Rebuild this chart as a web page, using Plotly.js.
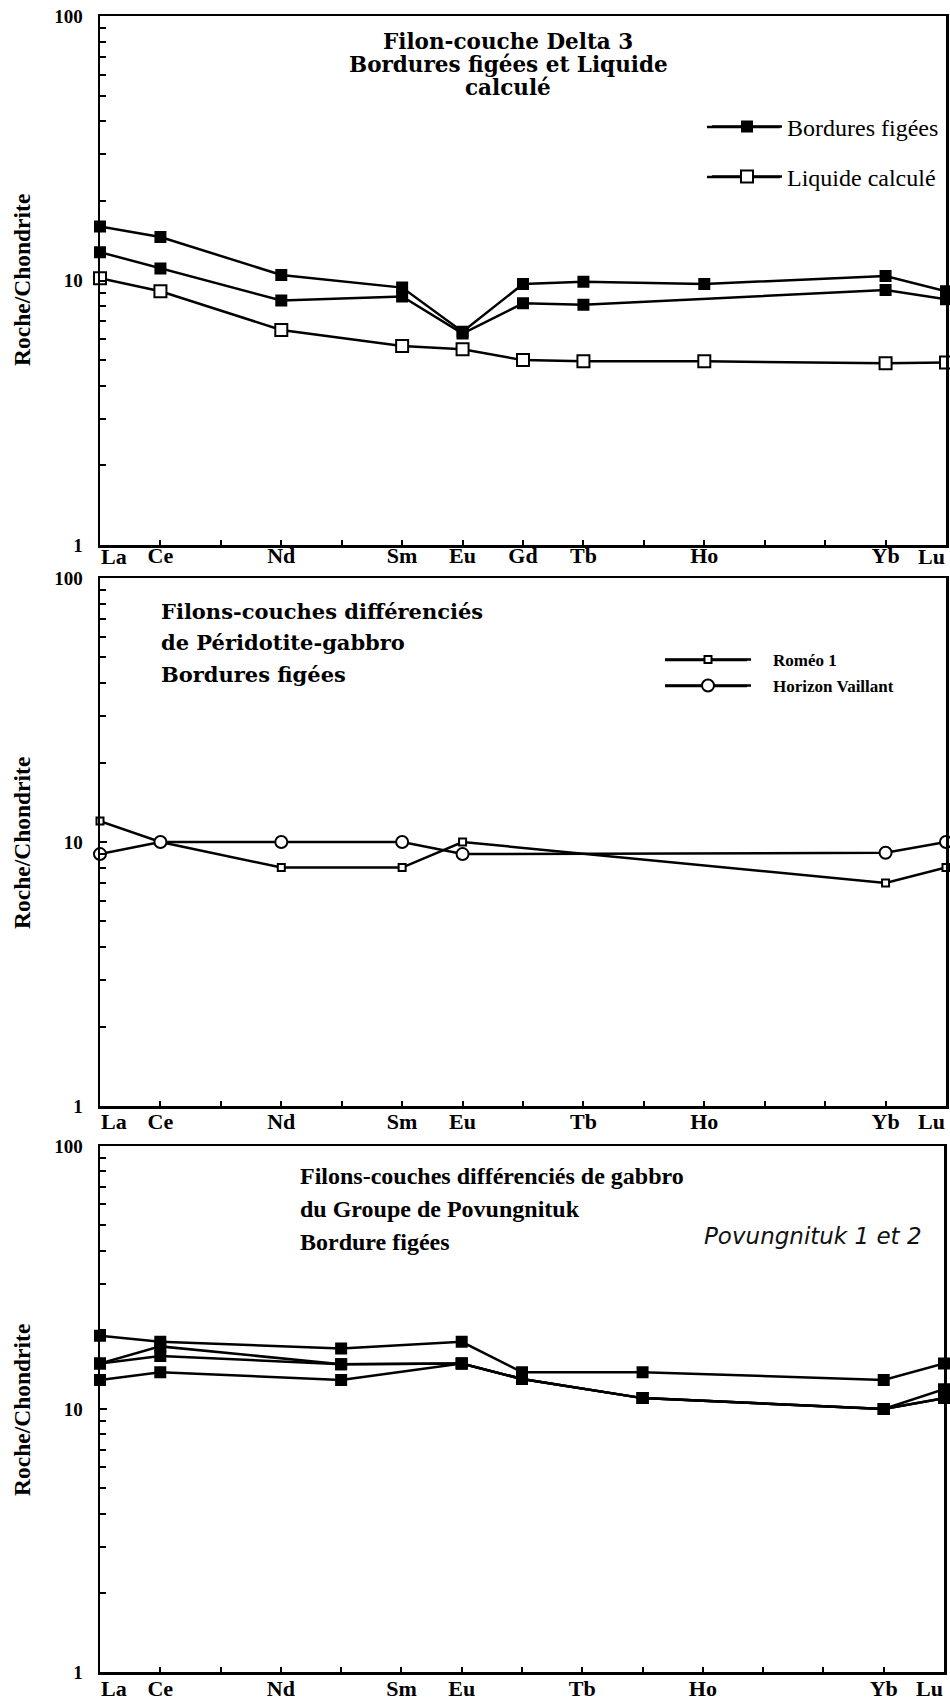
<!DOCTYPE html>
<html>
<head>
<meta charset="utf-8">
<script src="https://cdn.plot.ly/plotly-3.0.1.min.js"></script>
<style>html,body{margin:0;padding:0;background:#fff;}#chart{width:950px;height:1700px;}</style>
</head>
<body>
<div id="chart"></div>
<script>
// ---------- DATA ----------
// x positions are atomic-number positions of the REE (La=57 ... Lu=71)
const elemPos = [57,58,59,60,61,62,63,64,65,66,67,68,69,70,71];
const labelsP1 = ['La','Ce','','Nd','','Sm','Eu','Gd','Tb','','Ho','','','Yb','Lu'];
const labelsP2 = ['La','Ce','','Nd','','Sm','Eu','','Tb','','Ho','','','Yb','Lu'];
const labelsP3 = ['La','Ce','','Nd','','Sm','Eu','','Tb','','Ho','','','Yb','Lu'];

// Panel 1 : Filon-couche Delta 3  (La Ce Nd Sm Eu Gd Tb Ho Yb Lu)
const xP1 = [57,58,60,62,63,64,65,67,70,71];
const p1Bordures1 = [16.0,14.6,10.5,9.4,6.4,9.7,9.9,9.7,10.4,9.1];
const p1Bordures2 = [12.8,11.1,8.4,8.7,6.3,8.2,8.1,null,9.2,8.5];
const p1Liquide   = [10.2,9.1,6.5,5.65,5.5,5.0,4.95,4.95,4.87,4.9];

// Panel 2 : Péridotite-gabbro (La Ce Nd Sm Eu Yb Lu)
const xP2 = [57,58,60,62,63,70,71];
const romeo1          = [12.0,10.0,8.0,8.0,10.0,7.0,8.0];
const horizonVaillant = [9.0,10.0,10.0,10.0,9.0,9.1,10.0];

// Panel 3 : Groupe de Povungnituk
const xP3 = [57,58,61,63,64,66,70,71];
const pov1 = [19.0,18.0,17.0,18.0,13.8,13.8,12.9,14.9];
const pov2 = [14.9,17.3,14.8,14.9,13.0,11.0,10.0,11.9];
const pov3 = [14.9,15.9,14.8,14.9,13.0,11.0,10.0,11.0];
const pov4 = [12.9,13.8,12.9,14.9,13.0,11.0,10.0,11.0];

const yTickVals = [1,10,100];
const yTickText = ['1','10','100'];
const yMinor = [2,3,4,5,6,7,8,9,20,30,40,50,60,70,80,90];

// ---------- STYLE ----------
const W = 950, H = 1700;
const px = v => v / W;
const py = v => 1 - v / H;
const BLK = '#000';
const NB = '\u00A0';
const serifB = {family:'Liberation Serif, Times New Roman, serif', weight:'bold', color:BLK};

function line(x, y, xa, ya, sym, size, fill, opts) {
  return Object.assign({
    type:'scatter', mode:'lines+markers', x:x, y:y, xaxis:xa, yaxis:ya,
    connectgaps:true, cliponaxis:false,
    line:{color:BLK, width:2.5},
    marker:{symbol:sym, size:size, color:fill, line:{color:BLK, width:2}},
    showlegend:false, hoverinfo:'skip'
  }, opts || {});
}

const traces = [
  line(xP1, p1Bordures1, 'x', 'y', 'square', 10, BLK, {name:'Bordures figées', showlegend:true, legend:'legend'}),
  line(xP1, p1Bordures2, 'x', 'y', 'square', 10, BLK),
  line(xP1, p1Liquide, 'x', 'y', 'square', 12, '#fff', {name:'Liquide calculé', showlegend:true, legend:'legend2'}),
  line(xP2, romeo1, 'x2', 'y2', 'square', 7, '#fff', {name:NB.repeat(4)+'Roméo 1', showlegend:true, legend:'legend3'}),
  line(xP2, horizonVaillant, 'x2', 'y2', 'circle', 12, '#fff', {name:NB.repeat(4)+'Horizon Vaillant', showlegend:true, legend:'legend4'}),
  line(xP3, pov1, 'x3', 'y3', 'square', 10, BLK),
  line(xP3, pov2, 'x3', 'y3', 'square', 10, BLK),
  line(xP3, pov3, 'x3', 'y3', 'square', 10, BLK),
  line(xP3, pov4, 'x3', 'y3', 'square', 10, BLK)
];

const tickFont = Object.assign({size:22}, serifB);
// end labels (La, Lu) are drawn as annotations aligned to the axis ends
function midLabels(labels) { return labels.map((t, i) => (i === 0 || i === labels.length - 1) ? '' : t); }

function xAxis(domainR, labels, anchor, standoff) {
  return {
    domain:[px(100), px(domainR)], anchor:anchor, range:[57,71], type:'linear',
    tickmode:'array', tickvals:elemPos, ticktext:midLabels(labels),
    ticks:'inside', ticklen:5, tickwidth:2, tickcolor:BLK,
    ticklabelstandoff:standoff,
    showline:true, linecolor:BLK, linewidth:2.5, mirror:true,
    showgrid:false, zeroline:false, fixedrange:true,
    tickfont:tickFont
  };
}
function yAxis(top, bottom, anchor) {
  return {
    domain:[py(bottom), py(top)], anchor:anchor, type:'log', range:[0,2],
    tickmode:'array', tickvals:yTickVals, ticktext:yTickText,
    ticks:'inside', ticklen:7, tickwidth:2, tickcolor:BLK,
    ticklabelstandoff:11,
    minor:{tickmode:'array', tickvals:yMinor, ticks:'inside', ticklen:6, tickwidth:2, tickcolor:BLK, showgrid:false},
    showline:true, linecolor:BLK, linewidth:2.5, mirror:true,
    showgrid:false, zeroline:false, fixedrange:true,
    tickfont:Object.assign({size:19}, serifB)
  };
}

function ann(text, x, y, font, extra) {
  return Object.assign({text:text, xref:'paper', yref:'paper', x:px(x), y:py(y),
    showarrow:false, font:font, xanchor:'left', yanchor:'middle'}, extra || {});
}
function endLabels(labels, xref, yPix) {
  return [
    {text:labels[0], xref:xref, yref:'paper', x:elemPos[0], y:py(yPix), xanchor:'left', yanchor:'middle', showarrow:false, font:tickFont, borderpad:0},
    {text:labels[labels.length-1], xref:xref, yref:'paper', x:elemPos[elemPos.length-1], y:py(yPix), xanchor:'right', yanchor:'middle', showarrow:false, font:tickFont, borderpad:0}
  ];
}
const t1Font = {family:'DejaVu Serif, serif', weight:'bold', size:21.5, color:BLK};
const t2Font = {family:'DejaVu Serif, serif', weight:'bold', size:21, color:BLK};
const t3Font = Object.assign({size:24}, serifB);
const yTitleFont = Object.assign({size:23.5}, serifB);
const handFont = {family:'DejaVu Sans, sans-serif', style:'italic', size:23, color:'#111'};

const annotations = [
  ann('Filon-couche Delta 3', 508, 42, t1Font, {xanchor:'center'}),
  ann('Bordures figées et Liquide', 508, 65, t1Font, {xanchor:'center'}),
  ann('calculé', 508, 88, t1Font, {xanchor:'center'}),
  ann('Filons-couches différenciés', 159, 611, t2Font),
  ann('de Péridotite-gabbro', 159, 643, t2Font),
  ann('Bordures figées', 159, 675, t2Font),
  ann('Filons-couches différenciés de gabbro', 298, 1176, t3Font),
  ann('du Groupe de Povungnituk', 298, 1209, t3Font),
  ann('Bordure figées', 298, 1242, t3Font),
  ann('Povungnituk 1 et 2', 702, 1236, handFont),
  ann('Roche/Chondrite', 22, 280, yTitleFont, {xanchor:'center', textangle:-90}),
  ann('Roche/Chondrite', 22, 843, yTitleFont, {xanchor:'center', textangle:-90}),
  ann('Roche/Chondrite', 22, 1410, yTitleFont, {xanchor:'center', textangle:-90})
].concat(endLabels(labelsP1, 'x', 556), endLabels(labelsP2, 'x2', 1121), endLabels(labelsP3, 'x3', 1688));

// legend symbol line extensions
function legLine(x0, x1, y) {
  return {type:'line', xref:'paper', yref:'paper', x0:px(x0), x1:px(x1), y0:py(y), y1:py(y),
    line:{color:BLK, width:2.5}, layer:'above'};
}
const shapes = [
  legLine(707, 780, 127), legLine(707, 780, 177),
  legLine(665, 747, 660), legLine(665, 747, 686)
];

function leg(x, y, font, iw) {
  return {x:px(x), y:py(y), xanchor:'left', yanchor:'middle', bgcolor:'rgba(0,0,0,0)',
    borderwidth:0, font:font, itemwidth:iw, tracegroupgap:0};
}
const legFont1 = {family:'Liberation Serif, Times New Roman, serif', size:24, color:BLK};
const legFont2 = {family:'Liberation Serif, Times New Roman, serif', weight:'bold', size:17, color:BLK};

const layout = {
  width:W, height:H, margin:{l:0,r:0,t:0,b:0},
  paper_bgcolor:'#fff', plot_bgcolor:'#fff',
  xaxis:xAxis(946, labelsP1, 'y', -11),
  yaxis:yAxis(16, 545, 'x'),
  xaxis2:xAxis(946, labelsP2, 'y2', -6),
  yaxis2:yAxis(578, 1106, 'x2'),
  xaxis3:xAxis(944, labelsP3, 'y3', -5),
  yaxis3:yAxis(1146, 1672, 'x3'),
  legend:leg(707, 127, legFont1, 70),
  legend2:leg(707, 177, legFont1, 70),
  legend3:leg(660, 660, legFont2, 86),
  legend4:leg(660, 686, legFont2, 86),
  annotations:annotations,
  shapes:shapes,
  showlegend:true
};

Plotly.newPlot('chart', traces, layout, {staticPlot:true, displayModeBar:false});
</script>
</body>
</html>
